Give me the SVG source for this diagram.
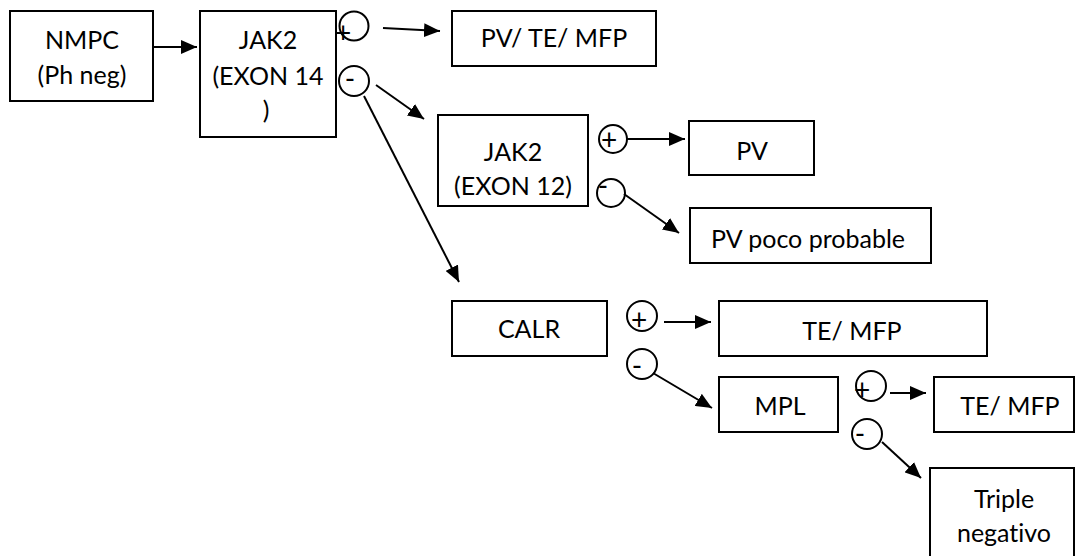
<svg xmlns="http://www.w3.org/2000/svg" width="1076" height="556" viewBox="0 0 1076 556">
<defs>
<marker id="ah" markerUnits="userSpaceOnUse" markerWidth="16" markerHeight="14" refX="16" refY="7" orient="auto">
<path d="M0,0 L16,7 L0,14 z" fill="#000"/>
</marker>
<style>
.box{fill:#fff;stroke:#000;stroke-width:2}
.t{font-family:Lato,"Liberation Sans",sans-serif;font-size:25px;fill:#000;text-anchor:middle;font-variant-ligatures:none}
.s{font-size:28px}
.c{fill:none;stroke:#000;stroke-width:2}
.e{stroke:#000;stroke-width:2;fill:none;marker-end:url(#ah)}
</style>
</defs>
<rect width="1076" height="556" fill="#fff"/>
<g id="connectors">
<line class="e" x1="153" y1="47" x2="197" y2="47"/>
<line class="e" x1="383" y1="28" x2="440" y2="31"/>
<line class="e" x1="376" y1="85" x2="424" y2="119"/>
<line class="e" x1="364" y1="96" x2="459" y2="282"/>
<line class="e" x1="627" y1="139" x2="685" y2="139"/>
<line class="e" x1="624" y1="194" x2="679" y2="233"/>
<line class="e" x1="664" y1="322" x2="711" y2="322"/>
<line class="e" x1="653" y1="373" x2="712" y2="408"/>
<line class="e" x1="890" y1="393" x2="926" y2="393"/>
<line class="e" x1="882" y1="442" x2="921" y2="478"/>
</g>
<g id="nmpc">
<rect class="box" x="10" y="11" width="143" height="90"/>
<text class="t" x="82" y="49">NMPC</text>
<text class="t" x="82" y="84">(Ph neg)</text>
</g>
<g id="jak2-exon14">
<rect class="box" x="200" y="11" width="136" height="126"/>
<text class="t" x="268" y="49">JAK2</text>
<text class="t" x="268" y="85">(EXON 14</text>
<text class="t" x="266" y="119">)</text>
</g>
<g id="sign-a-pos"><circle class="c" cx="354" cy="26" r="14.5"/><text class="t s" x="343" y="43">+</text></g>
<g id="sign-a-neg"><circle class="c" cx="354" cy="81" r="15"/><text class="t s" x="350" y="89">-</text></g>
<g id="pv-te-mfp">
<rect class="box" x="452" y="11" width="204" height="55"/>
<text class="t" x="554" y="47">PV/ TE/ MFP</text>
</g>
<g id="jak2-exon12">
<rect class="box" x="438" y="115" width="150" height="91"/>
<text class="t" x="513" y="161">JAK2</text>
<text class="t" x="513" y="195">(EXON 12)</text>
</g>
<g id="sign-b-pos"><circle class="c" cx="613" cy="139" r="14"/><text class="t s" x="609" y="150">+</text></g>
<g id="sign-b-neg"><circle class="c" cx="611" cy="193" r="14"/><text class="t s" x="603" y="196">-</text></g>
<g id="pv">
<rect class="box" x="689" y="121" width="125" height="54"/>
<text class="t" x="752" y="160">PV</text>
</g>
<g id="pv-poco">
<rect class="box" x="690" y="208" width="241" height="55"/>
<text class="t" x="808" y="248">PV poco probable</text>
</g>
<g id="calr">
<rect class="box" x="452" y="301" width="155" height="55"/>
<text class="t" x="529" y="338">CALR</text>
</g>
<g id="sign-c-pos"><circle class="c" cx="642" cy="316" r="15"/><text class="t s" x="639" y="330">+</text></g>
<g id="sign-c-neg"><circle class="c" cx="642" cy="364" r="15"/><text class="t s" x="637" y="376">-</text></g>
<g id="te-mfp-1">
<rect class="box" x="719" y="301" width="268" height="55"/>
<text class="t" x="852" y="340">TE/ MFP</text>
</g>
<g id="mpl">
<rect class="box" x="719" y="377" width="119" height="55"/>
<text class="t" x="780" y="415">MPL</text>
</g>
<g id="sign-d-pos"><circle class="c" cx="871" cy="386" r="15"/><text class="t s" x="862" y="400">+</text></g>
<g id="sign-d-neg"><circle class="c" cx="867" cy="434" r="15"/><text class="t s" x="860" y="444">-</text></g>
<g id="te-mfp-2">
<rect class="box" x="934" y="377" width="140" height="55"/>
<text class="t" x="1010" y="415">TE/ MFP</text>
</g>
<g id="triple">
<rect class="box" x="930" y="468" width="144" height="100"/>
<text class="t" x="1004" y="508">Triple</text>
<text class="t" x="1004" y="542">negativo</text>
</g>
</svg>
